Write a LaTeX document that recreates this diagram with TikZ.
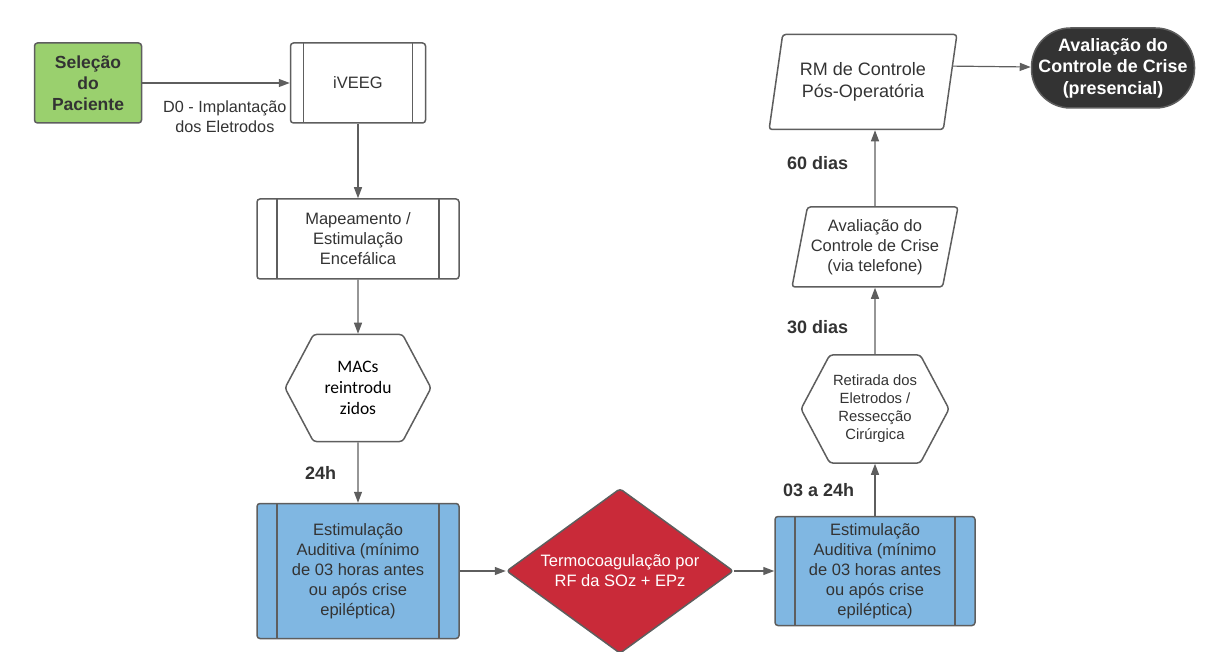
\documentclass[tikz,border=0pt]{standalone}
\usepackage{fontspec}
\setmainfont{Liberation Sans}
\newfontfamily\calfont{Carlito}
\usetikzlibrary{arrows.meta, shapes.geometric, shapes.symbols, calc}

\definecolor{linegray}{HTML}{5E5E5E}
\definecolor{txtgray}{HTML}{333333}
\definecolor{selgreen}{HTML}{9AD06E}
\definecolor{audblue}{HTML}{80B7E2}
\definecolor{rfred}{HTML}{C92A39}
\definecolor{enddark}{HTML}{333333}

\tikzset{
    box/.style={draw=linegray, line width=1.5pt, rounded corners=3pt, text=txtgray, align=center,
        font=\fontsize{16.5}{20}\selectfont},
    predef/.style={box, path picture={
        \draw[-, linegray, line width=1.5pt] ([xshift=#1]path picture bounding box.north west) -- ([xshift=#1]path picture bounding box.south west);
        \draw[-, linegray, line width=1.5pt] ([xshift=-#1]path picture bounding box.north east) -- ([xshift=-#1]path picture bounding box.south east);}},
    hexa/.style={box, signal, signal to=west and east, signal pointer angle=124, minimum width=146},
    paral/.style={box, trapezium, trapezium left angle=76, trapezium right angle=104, trapezium stretches=true},
    decision/.style={box, diamond, aspect=1.376, fill=rfred, text=white, inner sep=0pt, minimum width=227, minimum height=165},
    tag/.style={text=txtgray, font=\bfseries\fontsize{18}{21}\selectfont},
    lbl/.style={text=txtgray, align=center, font=\fontsize{16.2}{20}\selectfont}
}

\begin{document}
\begin{tikzpicture}[x=1pt, y=-1pt, ->, >={Triangle[length=11pt, width=8pt]},
    every edge/.append style={draw=linegray, line width=1.2pt}]
    \useasboundingbox (0,0) rectangle (1216,652);

    % left column
    \node[box, fill=selgreen, minimum width=107, minimum height=80, font=\bfseries\fontsize{17.5}{21}\selectfont] (sel) at (88,83) {Seleção\\do\\Paciente};
    \node[predef=13, minimum width=135, minimum height=80] (ieeg) at (358,83) {iVEEG};
    \node[predef=20, minimum width=202, minimum height=80] (map) at (358,239) {Mapeamento /\\Estimulação\\Encefálica};
    \node[hexa, minimum height=107, text=black, font=\calfont\fontsize{17.5}{21}\selectfont] (macs) at (358,388) {MACs\\reintrodu\\zidos};
    \node[predef=20, fill=audblue, minimum width=202, minimum height=135] (aud1) at (358,571) {Estimulação\\Auditiva (mínimo\\de 03 horas antes\\ou após crise\\epiléptica)};

    % middle
    \node[decision] (rf) at (620,571) {Termocoagulação por\\RF da SOz + EPz};

    % right column
    \node[predef=20, fill=audblue, minimum width=200, minimum height=109] (aud2) at (875,571) {Estimulação\\Auditiva (mínimo\\de 03 horas antes\\ou após crise\\epiléptica)};
    \node[hexa, minimum height=108, font=\fontsize{14.8}{18}\selectfont] (ret) at (875,409) {Retirada dos\\Eletrodos /\\Ressecção\\Cirúrgica};
    \node[paral, minimum width=160, minimum height=80] (tel) at (875,247) {Avaliação do\\Controle de Crise\\(via telefone)};
    \node[paral, minimum width=188, minimum height=95, font=\fontsize{18}{21.5}\selectfont] (rm) at (863,82) {RM de Controle\\Pós-Operatória};
    \node[box, fill=enddark, text=white, rounded corners=39pt, minimum width=163, minimum height=80, font=\bfseries\fontsize{17.9}{21.5}\selectfont] (fim) at (1113,68) {Avaliação do\\Controle de Crise\\(presencial)};

    \path
        (sel) edge node[below=14pt, pos=.56, lbl] {D0 - Implantação\\dos Eletrodos} (ieeg)
        (ieeg) edge (map)
        (map) edge (macs)
        (macs) edge node[left=18pt, tag] {24h} (aud1)
        (aud1) edge (rf)
        (rf) edge (aud2)
        (aud2) edge node[left=17pt, tag] {03 a 24h} (ret)
        (ret) edge node[left=23pt, yshift=-6pt, tag] {30 dias} (tel)
        (tel) edge node[left=23pt, yshift=5pt, tag] {60 dias} (tel.north |- rm.south)
        (rm.10) edge (fim);
\end{tikzpicture}
\end{document}
